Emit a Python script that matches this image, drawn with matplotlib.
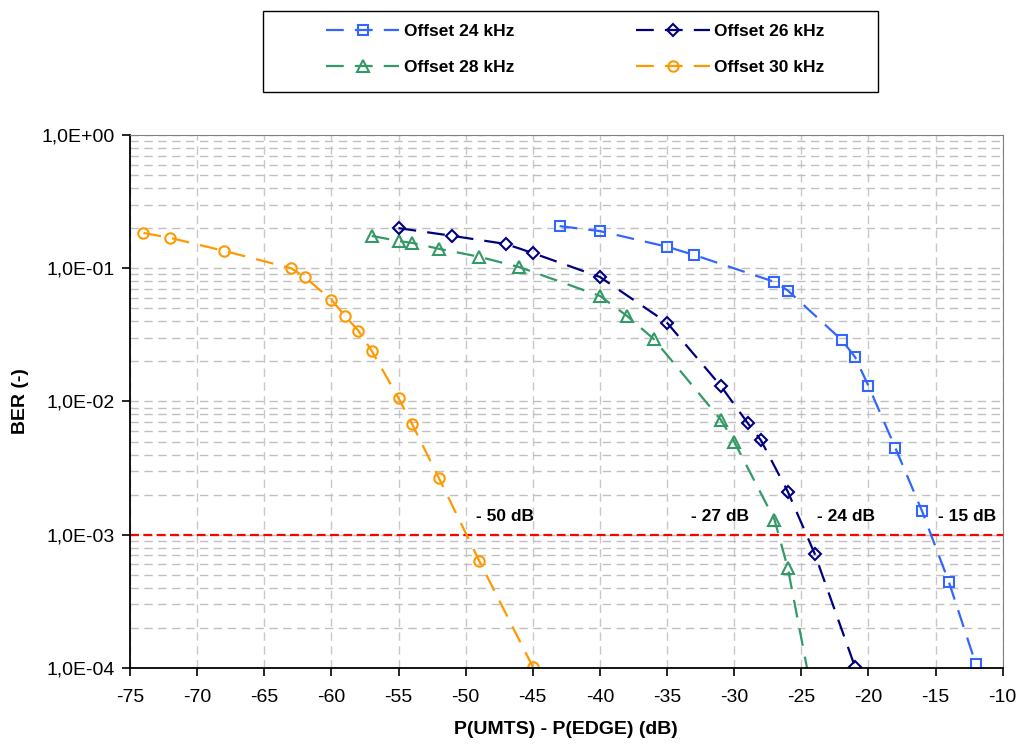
import matplotlib
matplotlib.use("Agg")
import matplotlib.pyplot as plt
import matplotlib.ticker as mticker
from matplotlib.patches import Rectangle
import numpy as np

plt.rcParams['font.family'] = ['Liberation Sans', 'DejaVu Sans']
plt.rcParams['axes.unicode_minus'] = False

# data
x24 = [-43, -40, -35, -33, -27, -26, -22, -21, -20, -18, -16, -14, -12]
y24 = [0.207, 0.190, 0.145, 0.126, 0.079, 0.068, 0.029, 0.0216, 0.0131,
       0.0045, 0.0015, 0.00044, 0.000107]

x26 = [-55, -51, -47, -45, -40, -35, -31, -29, -28, -26, -24, -21]
y26 = [0.200, 0.175, 0.152, 0.130, 0.086, 0.039, 0.0131, 0.0069, 0.0051,
       0.0021, 0.00072, 0.000102]

x28 = [-57, -55, -54, -52, -49, -46, -40, -38, -36, -31, -30, -27, -26, -24]
y28 = [0.175, 0.160, 0.155, 0.140, 0.122, 0.102, 0.062, 0.044, 0.0295,
       0.0073, 0.0050, 0.0013, 0.00056, 0.00005]

x30 = [-74, -72, -68, -63, -62, -60, -59, -58, -57, -55, -54, -52, -49, -45]
y30 = [0.184, 0.169, 0.135, 0.100, 0.086, 0.058, 0.044, 0.034, 0.024,
       0.0106, 0.0068, 0.00267, 0.00064, 0.000102]

ber_limit = 1e-3
annot_x = [-49.2, -33.2, -23.8, -14.8]
annot_txt = ["- 50 dB", "- 27 dB", "- 24 dB", "- 15 dB"]

fig = plt.figure(figsize=(10.2, 7.45), dpi=100)
ax = fig.add_axes([0.1275, 0.1034, 0.8555, 0.7154])

# legend order (column-first fill): 24, 28 | 26, 30
series = [
    (x24, y24, "#3366FF", "s", 7.5, "Offset 24 kHz"),
    (x28, y28, "#339966", "^", 8.5, "Offset 28 kHz"),
    (x26, y26, "#000080", "D", 6, "Offset 26 kHz"),
    (x30, y30, "#FF9900", "o", 7.5, "Offset 30 kHz"),
]
for xs, ys, col, mk, ms, lab in series:
    ax.plot(xs, ys, color=col, lw=1.6, dashes=(8, 5), marker=mk, ms=ms,
            mfc="none", mec=col, mew=1.5, label=lab)

ax.axhline(ber_limit, color="#FF0000", lw=1.6, dashes=(4, 2), zorder=1.5)
for xa, t in zip(annot_x, annot_txt):
    ax.text(xa, 1.36e-3, t, fontsize=12.5, fontweight="bold", va="center", ha="left")

ax.set_yscale("log")
ax.set_xlim(-75, -10)
ax.set_ylim(1e-4, 1)
ax.set_xticks(np.arange(-75, -9, 5))
ax.yaxis.set_major_locator(mticker.LogLocator(base=10, numticks=10))
ax.yaxis.set_minor_locator(mticker.LogLocator(base=10, subs=np.arange(2, 10), numticks=20))
ax.yaxis.set_major_formatter(mticker.FuncFormatter(
    lambda v, p: "1,0E{:+03d}".format(int(round(np.log10(v))))))
ax.yaxis.set_minor_formatter(mticker.NullFormatter())

ax.grid(True, which="major", axis="x", color="#C8C8C8", lw=1, dashes=(6, 4))
ax.grid(True, which="both", axis="y", color="#C0C0C0", lw=1, dashes=(6, 4))
ax.set_axisbelow(True)
ax.tick_params(axis="both", which="major", direction="out", length=6,
               labelsize=14, width=1.2)
ax.tick_params(axis="y", which="major", pad=5)
ax.tick_params(axis="x", which="major", pad=9)
ax.tick_params(axis="y", which="minor", length=0)
for sp in ["top", "right"]:
    ax.spines[sp].set_color("#808080")
for sp in ["left", "bottom"]:
    ax.spines[sp].set_linewidth(1.3)

ax.set_xlabel("P(UMTS) - P(EDGE) (dB)", fontsize=14, fontweight="bold", labelpad=11)
ax.set_ylabel("BER (-)", fontsize=14, fontweight="bold", labelpad=9)

fig.legend(loc="center", bbox_to_anchor=(0.5637, 0.934), ncol=2,
           prop={"weight": "bold", "size": 12.5}, handlelength=4.25,
           columnspacing=7, labelspacing=1.2, borderpad=0,
           handletextpad=0.25, frameon=False)
fig.patches.append(Rectangle((263 / 1020, 1 - 92 / 745), 615 / 1020, 81 / 745,
                             transform=fig.transFigure, fill=False,
                             edgecolor="black", lw=1.0))

fig.savefig("out.png", dpi=100)
